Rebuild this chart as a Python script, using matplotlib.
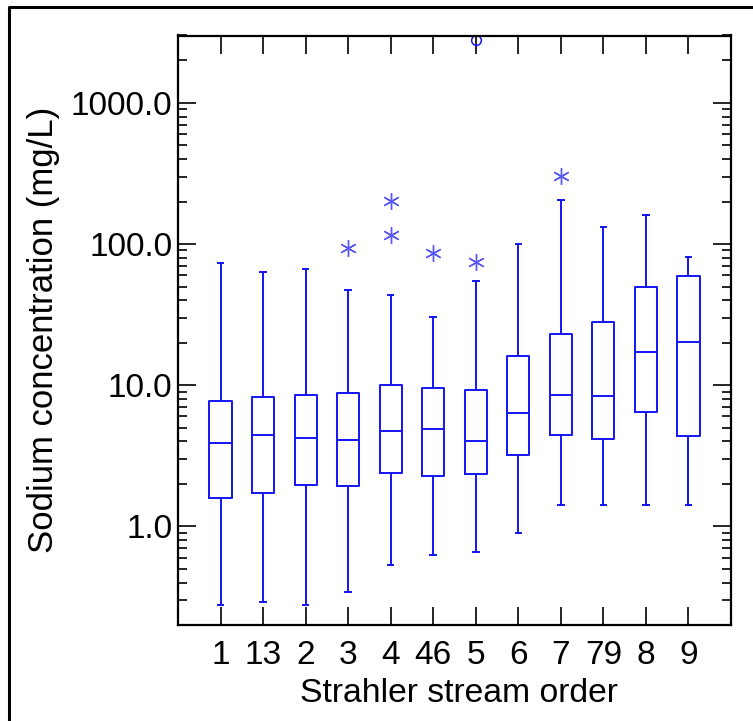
import matplotlib
matplotlib.use("Agg")
import matplotlib.pyplot as plt
from matplotlib.lines import Line2D
from matplotlib.ticker import LogLocator, FixedLocator, FuncFormatter, NullFormatter

plt.rcParams['font.family'] = ['Liberation Sans', 'DejaVu Sans']
tick_fs, xlabel_fs, ylabel_fs = 24, 24.3, 25

categories = ["1", "13", "2", "3", "4", "46", "5", "6", "7", "79", "8", "9"]
whisker_low = [0.278, 0.289, 0.278, 0.340, 0.529, 0.630, 0.654, 0.892, 1.41, 1.41, 1.41, 1.41]
q1 = [1.58, 1.71, 1.97, 1.92, 2.38, 2.26, 2.33, 3.21, 4.47, 4.14, 6.48, 4.38]
median = [3.90, 4.47, 4.21, 4.10, 4.72, 4.93, 4.01, 6.33, 8.45, 8.36, 17.1, 20.3]
q3 = [7.70, 8.18, 8.45, 8.87, 9.95, 9.48, 9.17, 16.1, 22.9, 28.2, 49.3, 59.3]
whisker_high = [73.3, 63.7, 66.5, 47.5, 43.3, 30.4, 54.4, 100.0, 204.0, 133.0, 161.0, 80.5]
star_outliers = [[], [], [], [94.3], [201.0, 116.6], [86.3], [75.0], [], [302.0], [], [], []]
circle_outliers = [[], [], [], [], [], [], [2785.0], [], [], [], [], []]

blue = "#1414f5"

fig = plt.figure(figsize=(7.53, 7.21), dpi=100)
ax = fig.add_axes([178/753, 1-625/721, (731-178)/753, (625-35.5)/721])

stats = []
for i, c in enumerate(categories):
    stats.append(dict(label=c, whislo=whisker_low[i], q1=q1[i], med=median[i],
                      q3=q3[i], whishi=whisker_high[i], fliers=[]))
positions = list(range(1, len(categories) + 1))
lw = 1.4
ax.bxp(stats, positions=positions, widths=0.52, showfliers=False,
       boxprops=dict(color=blue, linewidth=lw),
       medianprops=dict(color=blue, linewidth=lw),
       whiskerprops=dict(color=blue, linewidth=lw),
       capprops=dict(color=blue, linewidth=lw),
       capwidths=0.13)

for i, vals in enumerate(star_outliers):
    if vals:
        ax.plot([positions[i]] * len(vals), vals, linestyle='none',
                marker=(6, 2, 0), markersize=12, markeredgecolor="#3b3bf7",
                markeredgewidth=1.0, alpha=0.85)
for i, vals in enumerate(circle_outliers):
    if vals:
        ax.plot([positions[i]] * len(vals), vals, linestyle='none',
                marker='o', markersize=7, markerfacecolor='none',
                markeredgecolor=blue, markeredgewidth=1.1)

ax.set_yscale('log')
ax.set_ylim(0.2, 3000)
ax.set_xlim(0, 13)

ax.yaxis.set_major_locator(FixedLocator([1, 10, 100, 1000]))
ax.yaxis.set_major_formatter(FuncFormatter(lambda v, p: f"{v:.1f}"))
ax.yaxis.set_minor_locator(LogLocator(base=10, subs=range(2, 10), numticks=20))
ax.yaxis.set_minor_formatter(NullFormatter())

ax.set_xticks(positions)
ax.set_xticklabels(categories)
ax.xaxis.set_minor_locator(FixedLocator([]))

ax.tick_params(axis='both', which='major', direction='in', length=13, width=1.2,
               labelsize=tick_fs, top=True, right=True, pad=4, colors='black')
ax.tick_params(axis='y', which='minor', direction='in', length=6.5, width=1.2,
               right=True, left=True)
ax.tick_params(axis='x', which='major', pad=11)

for s in ax.spines.values():
    s.set_linewidth(1.6)
    s.set_color('black')

ax.set_xlabel("Strahler stream order", fontsize=xlabel_fs)
ax.xaxis.set_label_coords(0.508, -0.117, transform=ax.transAxes)
ax.xaxis.label.set_va('center')
ax.set_ylabel("Sodium concentration (mg/L)", fontsize=ylabel_fs, labelpad=8)

# outer border (left and top edges visible)
fig.add_artist(Line2D([9/753, 9/753, 1.0], [0.0, 1-7/721, 1-7/721],
                      transform=fig.transFigure, color='black', linewidth=2.2))

fig.savefig("out.png", dpi=100)
